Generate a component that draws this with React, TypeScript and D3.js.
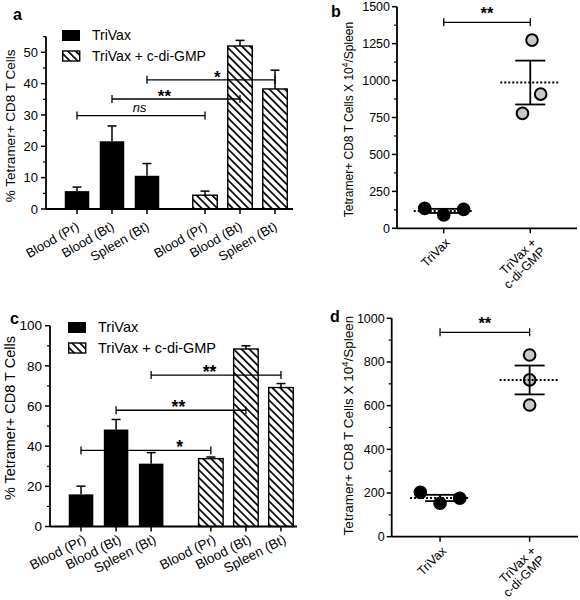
import React from 'react';
import * as d3 from 'd3';

const FONT = 'Liberation Sans, Arial, Helvetica, sans-serif';

// Shared categories
const groups = ['TriVax', 'TriVax + c-di-GMP'];
const tissues = ['Blood (Pr)', 'Blood (Bt)', 'Spleen (Bt)'];
const dotCatLines = [['TriVax'], ['TriVax +', 'c-di-GMP']];

// Panel a: % Tetramer+ CD8 T cells (means and SEM)
const aMeans = [[5.7, 21.6, 10.6], [4.4, 52.0, 38.3]];
const aSem = [[1.3, 4.9, 3.9], [1.3, 1.8, 6.0]];
const aSig = [
  { g0: 0, t0: 0, g1: 1, t1: 0, y: 29.8, label: 'ns', italic: true, pos: 0.49 },
  { g0: 0, t0: 1, g1: 1, t1: 1, y: 35.1, label: '**', italic: false, pos: 0.41 },
  { g0: 0, t0: 2, g1: 1, t1: 2, y: 41.2, label: '*', italic: false, pos: 0.55 },
];
const aTicks = [0, 10, 20, 30, 40, 50];

// Panel c
const cMeans = [[16.0, 48.3, 31.3], [33.8, 88.4, 69.2]];
const cSem = [[4.1, 5.0, 5.5], [0.8, 1.6, 2.0]];
const cSig = [
  { g0: 0, t0: 0, g1: 1, t1: 0, y: 37.9, label: '*', italic: false, pos: 0.76 },
  { g0: 0, t0: 1, g1: 1, t1: 1, y: 57.9, label: '**', italic: false, pos: 0.48 },
  { g0: 0, t0: 2, g1: 1, t1: 2, y: 75.4, label: '**', italic: false, pos: 0.45 },
];
const cTicks = [0, 20, 40, 60, 80, 100];

// Panel b: tetramer+ CD8 T cells x 10^4 / spleen (individual mice)
const bTriVax = [135, 90, 128];
const bCdi = [1274, 908, 778];
const bJitter = [[-0.22, 0, 0.23], [0.02, 0.12, -0.09]];
const bSigY = 1394;
const bTicks = [0, 250, 500, 750, 1000, 1250, 1500];

// Panel d
const dTriVax = [203, 153, 176];
const dCdi = [832, 718, 603];
const dJitter = [[-0.22, 0, 0.22], [0, 0, 0]];
const dSigY = 936;
const dTicks = [0, 200, 400, 600, 800, 1000];

function BarPanel(p: any) {
  const y = d3.scaleLinear().domain([0, p.yMax]).range([p.y0, p.y1]);
  const gx = d3.scaleBand().domain(groups).range([p.gx0, p.gx1]).paddingInner(p.gPad);
  const tx = d3.scaleBand().domain(tissues).range([0, gx.bandwidth()]).paddingInner(0.3).paddingOuter(0.15);
  const cx = (g: number, t: number) => (gx(groups[g]) as number) + (tx(tissues[t]) as number) + tx.bandwidth() / 2;
  const bw = tx.bandwidth();
  const minors = d3.range(p.minorStep, p.yMax + 1e-9, p.minorStep).filter((v) => !p.ticks.some((t: number) => Math.abs(t - v) < 1e-6));
  const fs = p.fs;
  const bars: any[] = [];
  p.means.forEach((row: number[], g: number) =>
    row.forEach((m: number, t: number) => bars.push({ g, t, m, s: p.sems[g][t] }))
  );
  return (
    <g>
      <text x={p.letter[1]} y={p.letter[2]} fontSize={16} fontWeight="bold" fontFamily={FONT}>{p.letter[0]}</text>
      {bars.map((b, i) => (
        <g key={i}>
          <line x1={cx(b.g, b.t)} x2={cx(b.g, b.t)} y1={y(b.m)} y2={y(b.m + b.s)} stroke="#000" strokeWidth={1.5} />
          <line x1={cx(b.g, b.t) - 4.5} x2={cx(b.g, b.t) + 4.5} y1={y(b.m + b.s)} y2={y(b.m + b.s)} stroke="#000" strokeWidth={1.5} />
          <rect
            x={cx(b.g, b.t) - bw / 2}
            y={y(b.m)}
            width={bw}
            height={y(0) - y(b.m)}
            fill={b.g === 0 ? '#000' : 'url(#hatch)'}
            stroke="#000"
            strokeWidth={b.g === 0 ? 0 : 1.4}
          />
        </g>
      ))}
      {p.sigs.map((s: any, i: number) => {
        const xa = cx(s.g0, s.t0);
        const xb = cx(s.g1, s.t1);
        const yy = y(s.y);
        return (
          <g key={i} stroke="#000" strokeWidth={1.3}>
            <line x1={xa} x2={xb} y1={yy} y2={yy} />
            <line x1={xa} x2={xa} y1={yy - 4} y2={yy + 4} />
            <line x1={xb} x2={xb} y1={yy - 4} y2={yy + 4} />
            <text
              x={xa + (xb - xa) * s.pos}
              y={s.italic ? yy - 4 : yy + 3}
              textAnchor="middle"
              stroke="none"
              fontSize={s.italic ? fs : fs + 4}
              fontStyle={s.italic ? 'italic' : 'normal'}
              fontWeight={s.italic ? 'normal' : 'bold'}
              fontFamily={FONT}
            >
              {s.label}
            </text>
          </g>
        );
      })}
      <line x1={p.ax} x2={p.ax} y1={y(0)} y2={y(p.yMax)} stroke="#000" strokeWidth={1.8} />
      <line x1={p.ax} x2={p.axEnd} y1={y(0)} y2={y(0)} stroke="#000" strokeWidth={1.8} />
      {p.ticks.map((t: number) => (
        <g key={t}>
          <line x1={p.ax - 5} x2={p.ax} y1={y(t)} y2={y(t)} stroke="#000" strokeWidth={1.5} />
          <text x={p.ax - 8} y={y(t)} dy="0.35em" textAnchor="end" fontSize={fs} fontFamily={FONT}>{t}</text>
        </g>
      ))}
      {minors.map((t: number) => (
        <line key={t} x1={p.ax - 3} x2={p.ax} y1={y(t)} y2={y(t)} stroke="#000" strokeWidth={1.2} />
      ))}
      {bars.map((b, i) => (
        <g key={i}>
          <line x1={cx(b.g, b.t)} x2={cx(b.g, b.t)} y1={y(0)} y2={y(0) + 5} stroke="#000" strokeWidth={1.5} />
          <text
            transform={`translate(${cx(b.g, b.t) + p.xlDx},${y(0) + p.xlDy}) rotate(${p.xlRot})`}
            textAnchor="end"
            fontSize={fs}
            fontFamily={FONT}
          >
            {tissues[b.t]}
          </text>
        </g>
      ))}
      <text
        transform={`translate(${p.ylx},${(y(0) + y(p.yMax)) / 2 + p.ylShift}) rotate(-90)`}
        textAnchor="middle"
        fontSize={p.ylfs}
        fontFamily={FONT}
      >
        % Tetramer+ CD8 T Cells
      </text>
      <rect x={p.lx} y={p.ly} width={18} height={11} fill="#000" />
      <text x={p.lx + 30} y={p.ly + 10} fontSize={fs + 1} fontFamily={FONT}>{groups[0]}</text>
      <rect x={p.lx + 0.7} y={p.ly + 21} width={17} height={10} fill="url(#hatch)" stroke="#000" strokeWidth={1.4} />
      <text x={p.lx + 30} y={p.ly + 31} fontSize={fs + 1} fontFamily={FONT}>{groups[1]}</text>
    </g>
  );
}

function DotPanel(p: any) {
  const y = d3.scaleLinear().domain([0, p.yMax]).range([p.y0, p.y1]);
  const x = d3.scalePoint().domain(groups).range([p.ax, p.axEnd]).padding(p.pad);
  const step = x.step();
  const series = [p.tri, p.cdi];
  const minors = d3.range(p.minorStep, p.yMax, p.minorStep).filter((v) => !p.ticks.some((t: number) => Math.abs(t - v) < 1e-6));
  const fs = p.fs;
  const xa = x(groups[0]) as number;
  const xb = x(groups[1]) as number;
  const sy = y(p.sigY);
  return (
    <g>
      <text x={p.letter[1]} y={p.letter[2]} fontSize={16} fontWeight="bold" fontFamily={FONT}>{p.letter[0]}</text>
      {series.map((vals: number[], g: number) => {
        const c = x(groups[g]) as number;
        const m = d3.mean(vals) as number;
        const se = (d3.deviation(vals) as number) / Math.sqrt(vals.length);
        return (
          <g key={g}>
            {vals.map((v, i) => (
              <circle
                key={i}
                cx={c + p.jitter[g][i] * step}
                cy={y(v)}
                r={5.8}
                fill={g === 0 ? '#000' : '#c8c8c8'}
                stroke="#000"
                strokeWidth={2}
              />
            ))}
            <line x1={c - 30} x2={c + 30} y1={y(m)} y2={y(m)} stroke="#000" strokeWidth={2} strokeDasharray="2,2" />
            <line x1={c} x2={c} y1={y(m - se)} y2={y(m + se)} stroke="#000" strokeWidth={1.8} />
            <line x1={c - 15} x2={c + 15} y1={y(m + se)} y2={y(m + se)} stroke="#000" strokeWidth={1.8} />
            <line x1={c - 15} x2={c + 15} y1={y(m - se)} y2={y(m - se)} stroke="#000" strokeWidth={1.8} />
          </g>
        );
      })}
      <g stroke="#000" strokeWidth={1.3}>
        <line x1={xa} x2={xb} y1={sy} y2={sy} />
        <line x1={xa} x2={xa} y1={sy - 4} y2={sy + 4} />
        <line x1={xb} x2={xb} y1={sy - 4} y2={sy + 4} />
      </g>
      <text x={(xa + xb) / 2} y={sy - 3} textAnchor="middle" fontSize={fs + 4} fontWeight="bold" fontFamily={FONT}>**</text>
      <line x1={p.ax} x2={p.ax} y1={y(0)} y2={y(p.yMax)} stroke="#000" strokeWidth={1.8} />
      <line x1={p.ax} x2={p.axEnd} y1={y(0)} y2={y(0)} stroke="#000" strokeWidth={1.8} />
      {p.ticks.map((t: number) => (
        <g key={t}>
          <line x1={p.ax - 5} x2={p.ax} y1={y(t)} y2={y(t)} stroke="#000" strokeWidth={1.5} />
          <text x={p.ax - 7} y={y(t)} dy="0.35em" textAnchor="end" fontSize={fs} fontFamily={FONT}>{t}</text>
        </g>
      ))}
      {minors.map((t: number) => (
        <line key={t} x1={p.ax - 3} x2={p.ax} y1={y(t)} y2={y(t)} stroke="#000" strokeWidth={1.2} />
      ))}
      {groups.map((g, i) => (
        <g key={g}>
          <line x1={x(g)} x2={x(g)} y1={y(0)} y2={y(0) + 5} stroke="#000" strokeWidth={1.5} />
          <text
            transform={`translate(${(x(g) as number) + 7},${y(0) + 15}) rotate(-45)`}
            textAnchor="end"
            fontSize={fs}
            fontFamily={FONT}
          >
            {dotCatLines[i].map((ln, k) => (
              <tspan key={k} x={0} dy={k === 0 ? 0 : '1.0em'}>{ln}</tspan>
            ))}
          </text>
        </g>
      ))}
      <text
        transform={`translate(${p.ylx},${(y(0) + y(p.yMax)) / 2 + p.ylShift}) rotate(-90)`}
        textAnchor="middle"
        fontSize={p.ylfs}
        fontFamily={FONT}
      >
        Tetramer+ CD8 T Cells X 10
        <tspan dy="-5" fontSize={p.ylfs * 0.7}>4</tspan>
        <tspan dy="5">/Spleen</tspan>
      </text>
    </g>
  );
}

export default function App() {
  return (
    <svg width={580} height={600} style={{ position: 'absolute', left: 0, top: 0, background: '#fff' }}>
      <defs>
        <pattern id="hatch" patternUnits="userSpaceOnUse" width={5.5} height={5.5} patternTransform="rotate(-45)">
          <rect width={5.5} height={5.5} fill="#fff" />
          <line x1={0} y1={0} x2={0} y2={5.5} stroke="#000" strokeWidth={3.4} />
        </pattern>
      </defs>
      <rect width={580} height={600} fill="#fff" />
      <BarPanel
        letter={['a', 13, 20]}
        yMax={55} y0={209} y1={36.6}
        ticks={aTicks} minorStep={5}
        gx0={59.5} gx1={292.5} gPad={0.18}
        ax={46} axEnd={293}
        means={aMeans} sems={aSem} sigs={aSig}
        fs={13} ylfs={13.5} ylx={15} ylShift={3}
        xlDx={3} xlDy={20} xlRot={-30}
        lx={62} ly={30}
      />
      <BarPanel
        letter={['c', 10, 324]}
        yMax={100} y0={526.5} y1={325.7}
        ticks={cTicks} minorStep={10}
        gx0={63.5} gx1={298.5} gPad={0.19}
        ax={50} axEnd={297}
        means={cMeans} sems={cSem} sigs={cSig}
        fs={13.5} ylfs={14.5} ylx={15} ylShift={-8}
        xlDx={6} xlDy={16} xlRot={-27}
        lx={68} ly={322}
      />
      <DotPanel
        letter={['b', 331, 17]}
        yMax={1500} y0={228.3} y1={6.7}
        ticks={bTicks} minorStep={125}
        ax={397} axEnd={577} pad={0.54}
        tri={bTriVax} cdi={bCdi} jitter={bJitter} sigY={bSigY}
        fs={12.5} ylfs={12} ylx={353} ylShift={2}
      />
      <DotPanel
        letter={['d', 330, 322]}
        yMax={1000} y0={536.7} y1={318.3}
        ticks={dTicks} minorStep={100}
        ax={391.7} axEnd={578} pad={0.54}
        tri={dTriVax} cdi={dCdi} jitter={dJitter} sigY={dSigY}
        fs={12.5} ylfs={13.5} ylx={353} ylShift={-2}
      />
    </svg>
  );
}
